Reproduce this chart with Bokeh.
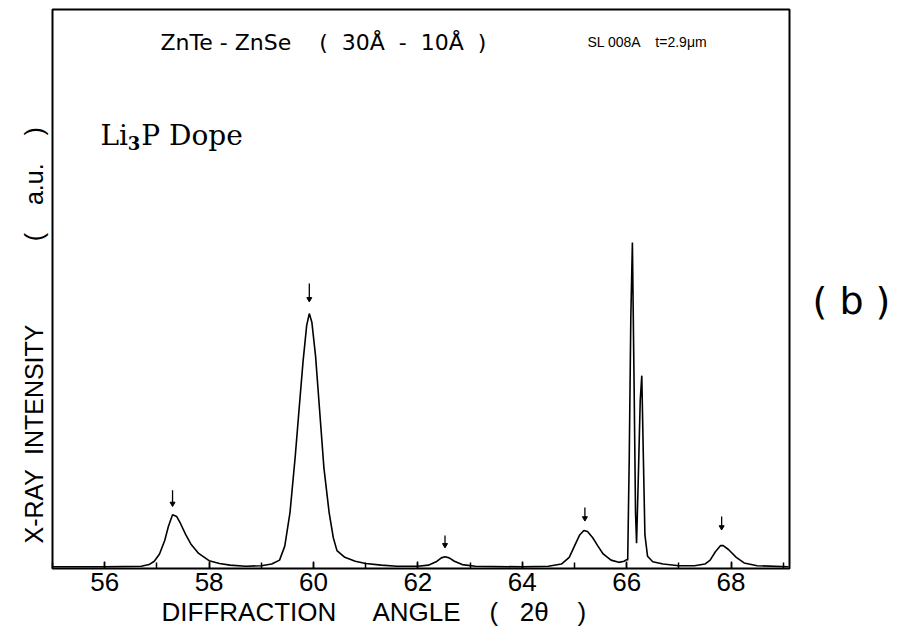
from bokeh.plotting import figure
from bokeh.models import FixedTicker, Range1d, Label, Title, LinearAxis
from bokeh.embed import file_html
from bokeh.resources import INLINE

# Diffraction scan: 2-theta (deg) and intensity (a.u.), traced point by point
two_theta = [
    55.0, 56.0, 56.7, 56.85, 56.95, 57.05, 57.15, 57.22, 57.3, 57.38, 57.45,
    57.55, 57.65, 57.8, 58.0, 58.2, 58.4, 58.7, 59.0, 59.2, 59.35, 59.45,
    59.55, 59.65, 59.72, 59.8, 59.87, 59.92, 59.97, 60.04, 60.12, 60.2,
    60.3, 60.38, 60.45, 60.6, 60.8, 61.0, 61.3, 61.6, 62.0, 62.2, 62.35,
    62.45, 62.52, 62.6, 62.7, 62.85, 63.1, 64.0, 64.5, 64.75, 64.9, 65.0,
    65.1, 65.18, 65.25, 65.35, 65.45, 65.55, 65.7, 65.85, 65.95, 66.0,
    66.02, 66.05, 66.08, 66.11, 66.14, 66.17, 66.19, 66.22, 66.26, 66.29,
    66.32, 66.35, 66.4, 66.5, 66.7, 67.0, 67.3, 67.5, 67.6, 67.7, 67.8,
    67.85, 67.95, 68.1, 68.25, 68.5, 69.1,
]
intensity = [
    0.3, 0.3, 0.4, 0.7, 1.3, 2.6, 5.0, 7.5, 9.6, 9.3, 8.1,
    6.1, 4.4, 2.7, 1.4, 0.9, 0.6, 0.4, 0.5, 0.8, 1.5, 4.0,
    10.0, 20.0, 28.0, 37.0, 43.5, 45.6, 44.0, 38.0, 28.0, 18.0,
    10.0, 5.5, 3.2, 2.0, 1.3, 0.9, 0.6, 0.4, 0.4, 0.6, 1.2,
    1.9, 2.1, 1.9, 1.3, 0.7, 0.4, 0.3, 0.4, 0.8, 2.0, 4.0,
    6.0, 6.8, 6.6, 5.5, 4.0, 2.6, 1.5, 1.1, 1.3, 1.6,
    1.5, 20.0, 45.0, 58.3, 35.0, 10.0, 4.5, 15.0, 30.0, 34.5,
    20.0, 6.0, 2.2, 1.2, 0.8, 0.5, 0.5, 0.8, 1.5, 3.0, 4.1,
    4.1, 3.4, 2.0, 1.0, 0.5, 0.3,
]

# Satellite markers (down arrows) above the superlattice peaks
marker_x = [57.3, 59.92, 62.52, 65.2, 67.82]
marker_top = [14.0, 51.0, 5.9, 10.9, 9.3]
marker_tip = [11.6, 48.2, 4.2, 9.0, 7.4]

x_ticks = [56, 58, 60, 62, 64, 66, 68]
x_minor = [55, 56, 57, 58, 59, 60, 61, 62, 63, 64, 65, 66, 67, 68, 69]

NB = "\u00a0"
SANS = "Liberation Sans"

p = figure(width=905, height=635, output_backend="svg", toolbar_location=None,
           x_range=Range1d(55.0, 69.12), y_range=Range1d(0, 100),
           min_border_left=52, min_border_right=116, min_border_top=9,
           min_border_bottom=67)
p.background_fill_color = "white"
p.border_fill_color = "white"
p.outline_line_color = "black"
p.outline_line_width = 2
p.grid.visible = False
p.yaxis.visible = False

ax = p.xaxis[0]
ax.ticker = FixedTicker(ticks=x_ticks, minor_ticks=x_minor)
ax.axis_line_color = None
ax.major_tick_in = 7
ax.major_tick_out = 0
ax.minor_tick_in = 6
ax.minor_tick_out = 0
ax.major_tick_line_color = "black"
ax.minor_tick_line_color = "black"
ax.major_tick_line_width = 1.5
ax.minor_tick_line_width = 1.5
ax.major_label_standoff = 4
ax.major_label_text_font = SANS
ax.major_label_text_font_size = "26px"
ax.major_label_text_color = "black"

# panel label "( b )" on the right side
b_axis = LinearAxis(ticker=FixedTicker(ticks=[47.9]),
                    major_label_overrides={47.9: "( b )"},
                    axis_line_color=None, major_tick_line_color=None,
                    minor_tick_line_color=None, major_tick_in=0,
                    major_tick_out=0, minor_tick_in=0, minor_tick_out=0,
                    major_label_standoff=23,
                    major_label_text_font="DejaVu Sans",
                    major_label_text_font_size="38px",
                    major_label_text_color="black")
p.add_layout(b_axis, "right")

# axis titles
x_title = ("DIFFRACTION" + NB * 5 + "ANGLE" + NB * 4 + "(" + NB * 3 + "2θ"
           + NB * 4 + ")")
p.add_layout(Title(text=x_title, align="left", offset=109, standoff=2,
                   text_font=SANS, text_font_size="26px",
                   text_font_style="normal", text_color="black"), "below")
y_title = ("X-RAY" + NB * 2 + "INTENSITY" + NB * 12 + "(" + NB * 4 + "a.u."
           + NB * 4 + ")")
p.add_layout(Title(text=y_title, align="left", offset=25, standoff=9,
                   text_font=SANS, text_font_size="25px",
                   text_font_style="normal", text_color="black"), "left")

p.line(two_theta, intensity, line_color="black", line_width=1.6)

p.segment(x0=marker_x, y0=marker_top, x1=marker_x, y1=marker_tip,
          line_color="black", line_width=1.3)
p.scatter(marker_x, marker_tip, marker="inverted_triangle", size=5,
          fill_color="black", line_color="black")

def add_text(x, y, text, size, font=SANS, style="normal",
             baseline="middle"):
    p.add_layout(Label(x=x, y=y, text=text, text_font=font,
                       text_font_size=size, text_font_style=style,
                       text_align="left", text_baseline=baseline,
                       text_color="black"))

add_text(57.07, 94.1,
         "ZnTe - ZnSe" + NB * 4 + "(" + NB * 2 + "30Å" + NB * 2 + "-" + NB * 2
         + "10Å" + NB * 2 + ")", "22px", font="DejaVu Sans")
add_text(65.25, 94.1, "SL 008A", "14px")
add_text(66.55, 94.1, "t=2.9μm", "14px")
add_text(55.92, 77.5, "Li", "28px", font="DejaVu Serif", baseline="alphabetic")
add_text(56.44, 76.2, "3", "18px", font="DejaVu Serif", style="bold",
         baseline="alphabetic")
add_text(56.70, 77.5, "P Dope", "28px", font="DejaVu Serif",
         baseline="alphabetic")

open("out.html", "w").write(file_html(p, INLINE))
